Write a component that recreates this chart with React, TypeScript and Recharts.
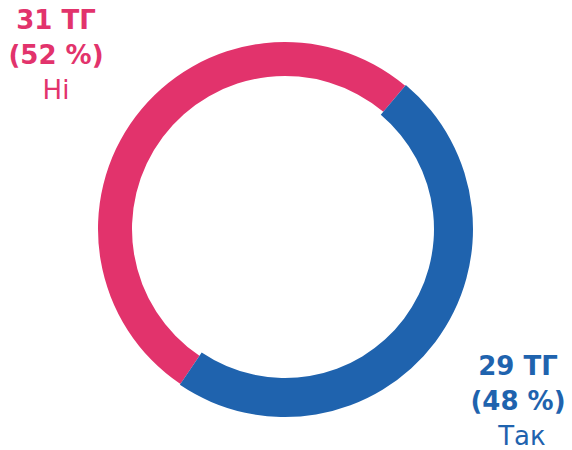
import { PieChart, Pie, Cell } from "recharts";

// Share of ТГ answering "Ні" / "Так"
const categories = ["Ні", "Так"];
const counts = [31, 29];
const percents = [52, 48];
const colors = ["#E2336C", "#1F63AE"];

const data = categories.map((name, i) => ({ name, value: counts[i] }));

const labelStyle = (color: string): React.CSSProperties => ({
    position: "absolute",
    width: 120,
    textAlign: "center",
    color,
    fontFamily: "'DejaVu Sans', sans-serif",
    fontSize: 26,
    lineHeight: "35px",
});

export default function App() {
    return (
        <div style={{ position: "absolute", left: 0, top: 0, width: 572, height: 450, background: "#fff", overflow: "hidden" }}>
            <PieChart width={572} height={450} margin={{ top: 0, right: 0, bottom: 0, left: 0 }}>
                {/* pink ring, slightly thinner */}
                <Pie
                    data={data}
                    dataKey="value"
                    cx={285}
                    cy={229}
                    innerRadius={153}
                    outerRadius={187}
                    startAngle={50}
                    endAngle={410}
                    stroke="none"
                    isAnimationActive={false}
                >
                    {data.map((d, i) => (
                        <Cell key={d.name} fill={i === 0 ? colors[0] : "transparent"} />
                    ))}
                </Pie>
                {/* blue ring, a bit thicker */}
                <Pie
                    data={data}
                    dataKey="value"
                    cx={285}
                    cy={229}
                    innerRadius={149}
                    outerRadius={188}
                    startAngle={50}
                    endAngle={410}
                    stroke="none"
                    isAnimationActive={false}
                >
                    {data.map((d, i) => (
                        <Cell key={d.name} fill={i === 1 ? colors[1] : "transparent"} />
                    ))}
                </Pie>
            </PieChart>

            <div style={{ ...labelStyle(colors[0]), left: -4, top: 3 }}>
                <div style={{ fontWeight: 700 }}>{counts[0]} ТГ</div>
                <div style={{ fontWeight: 700 }}>({percents[0]} %)</div>
                <div style={{ fontWeight: 400 }}>{categories[0]}</div>
            </div>
            <div style={{ ...labelStyle(colors[1]), left: 458, top: 349 }}>
                <div style={{ fontWeight: 700 }}>{counts[1]} ТГ</div>
                <div style={{ fontWeight: 700 }}>({percents[1]} %)</div>
                <div style={{ fontWeight: 400, marginLeft: 8 }}>{categories[1]}</div>
            </div>
        </div>
    );
}
